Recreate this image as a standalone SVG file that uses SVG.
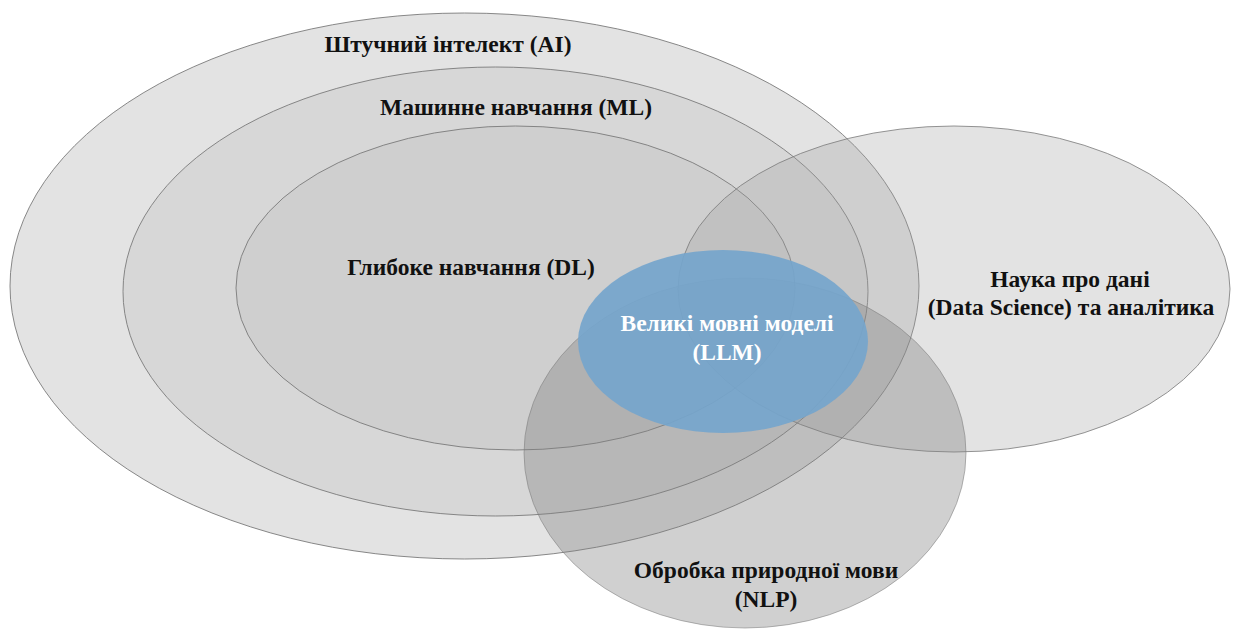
<svg xmlns="http://www.w3.org/2000/svg" width="1234" height="630" viewBox="0 0 1234 630">
  <style>
    .ring { stroke: #7a7a7a; stroke-width: 0.9; }
    .lbl { font-weight: bold; font-size: 23.5px; fill: #111111; text-anchor: middle; }
    .lbl-w { fill: #ffffff; }
  </style>
  <rect width="1234" height="630" fill="#ffffff"/>
  <g id="ai">
    <ellipse class="ring" cx="464.5" cy="286" rx="454.5" ry="273" fill="#e3e3e3"/>
  </g>
  <g id="ml">
    <ellipse class="ring" cx="495.5" cy="291.5" rx="372.5" ry="224.5" fill="#d7d7d7"/>
  </g>
  <g id="dl">
    <ellipse class="ring" cx="515.5" cy="288" rx="279.5" ry="162" fill="#cfcfcf"/>
  </g>
  <g id="ds">
    <ellipse class="ring" cx="954" cy="289" rx="276" ry="163" fill="#a0a0a0" fill-opacity="0.295" stroke-opacity="0.9"/>
  </g>
  <g id="nlp">
    <ellipse class="ring" cx="745" cy="453" rx="221" ry="175" fill="#808080" fill-opacity="0.37" stroke-opacity="0.6"/>
  </g>
  <g id="llm">
    <ellipse cx="723" cy="341.5" rx="145" ry="91.5" fill="#75a5cc" fill-opacity="0.92"/>
  </g>
  <g id="connectors"></g>
  <g id="labels">
    <text class="lbl" style="font-family:'Liberation Serif'" x="448" y="52">Штучний інтелект (AI)</text>
    <text class="lbl" style="font-family:'Liberation Serif'" x="516" y="115">Машинне навчання (ML)</text>
    <text class="lbl" style="font-family:'Liberation Serif'" x="471" y="275">Глибоке навчання (DL)</text>
    <text class="lbl" style="font-family:'Liberation Serif'" x="1070" y="287">Наука про дані</text>
    <text class="lbl" style="font-family:'Liberation Serif'" x="1071" y="315">(Data Science) та аналітика</text>
    <text class="lbl lbl-w" style="font-family:'Liberation Serif'" x="727" y="331">Великі мовні моделі</text>
    <text class="lbl lbl-w" style="font-family:'Liberation Serif'" x="727" y="360">(LLM)</text>
    <text class="lbl" style="font-family:'Liberation Serif'" x="766" y="578">Обробка природної мови</text>
    <text class="lbl" style="font-family:'Liberation Serif'" x="766" y="607">(NLP)</text>
  </g>
</svg>
